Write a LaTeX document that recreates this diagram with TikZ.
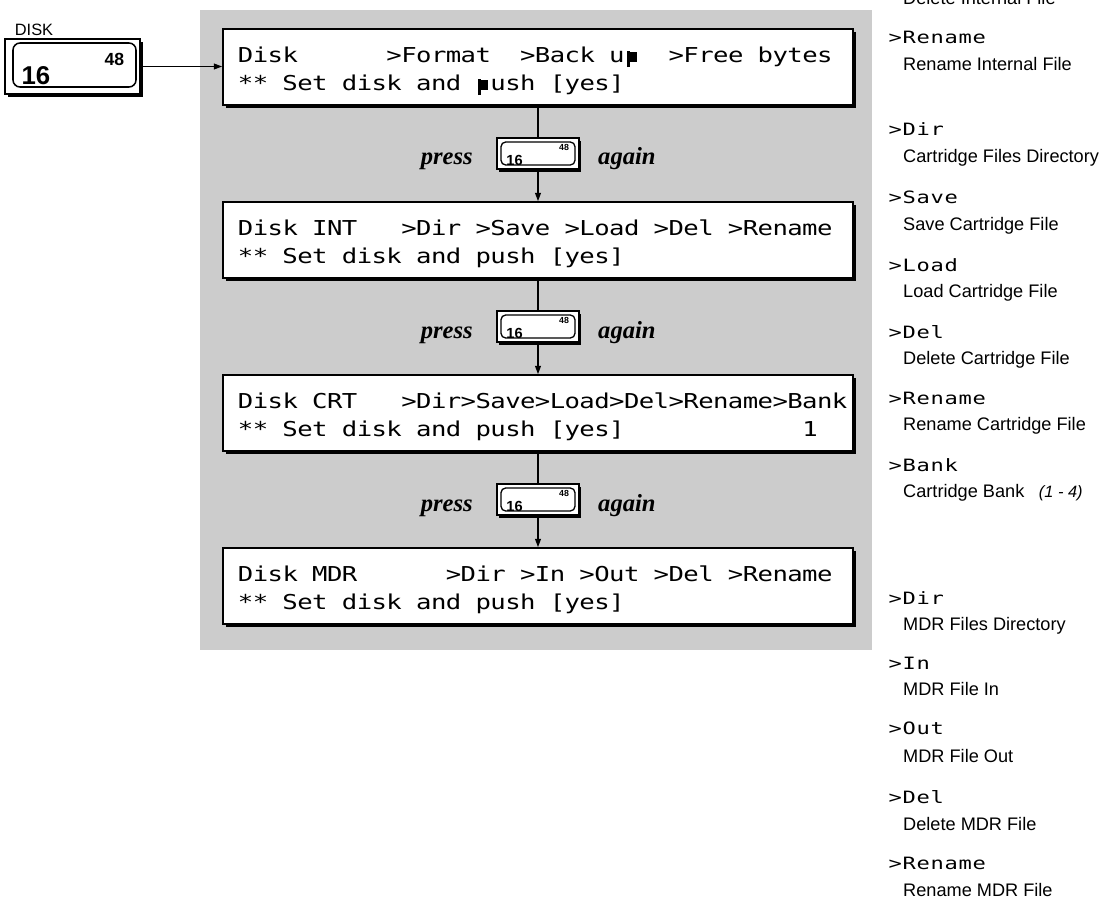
\documentclass[tikz,border=0pt]{standalone}
\usepackage{fontspec}
\setmainfont{Liberation Sans}
\newfontfamily\lcdfont[FakeStretch=1.25]{DejaVu Sans Mono}
\newfontfamily\lcdsmall[FakeStretch=1.3]{DejaVu Sans Mono}
\newfontfamily\serifface{Liberation Serif}
\usetikzlibrary{arrows.meta,shadows}

% a dot-matrix "p" whose bowl is filled in
\newcommand\lcdblob{\rule[-0.22em]{0.13em}{0.76em}\kern-0.01em\rule[0.02em]{0.36em}{0.5em}}

% fixed-pitch LCD text: every character sits in a cell of width #1;
% "_" is an empty cell, "@" is the filled p
\ExplSyntaxOn
\dim_new:N \l_lcd_pitch_dim
\NewDocumentCommand \lcdtext { m m }
  {
    \dim_set:Nn \l_lcd_pitch_dim {#1}
    \str_map_inline:nn {#2}
      {
        \str_case:nnF {##1}
          {
            { _ } { \hbox_to_wd:nn { \l_lcd_pitch_dim } { } }
            { @ } { \hbox_to_wd:nn { \l_lcd_pitch_dim } { \hss \lcdblob \hss } }
          }
          { \hbox_to_wd:nn { \l_lcd_pitch_dim } { \hss ##1 \hss } }
      }
  }
\ExplSyntaxOff

\begin{document}
\begin{tikzpicture}[x=0.03cm,y=-0.03cm,
  stipple/.style={fill=black!20},
  lcdbox/.style={draw, line width=1.5pt, fill=white, minimum width=18.9cm,
    minimum height=2.28cm, inner sep=0pt,
    drop shadow={shadow xshift=2.6pt, shadow yshift=-2.6pt, opacity=1, fill=black}},
  lcdline/.style={anchor=base west, inner sep=0pt, font=\lcdfont\fontsize{17.5}{20}\selectfont},
  keyout/.style={draw, line width=1.1pt, fill=white, minimum width=2.46cm,
    minimum height=0.93cm, inner sep=0pt,
    drop shadow={shadow xshift=2pt, shadow yshift=-2.2pt, opacity=1, fill=black}},
  keyin/.style={draw, line width=1.1pt, rounded corners=4pt, minimum width=2.22cm,
    minimum height=0.69cm, inner sep=0pt},
  keynum/.style={inner sep=0pt, font=\bfseries\fontsize{12.5}{13}\selectfont},
  keysup/.style={inner sep=0pt, font=\bfseries\fontsize{7.5}{8}\selectfont},
  bigout/.style={draw, line width=1.3pt, fill=white, minimum width=4.05cm,
    minimum height=1.65cm, inner sep=0pt,
    drop shadow={shadow xshift=2.6pt, shadow yshift=-2.6pt, opacity=1, fill=black}},
  bigin/.style={draw, line width=1.3pt, rounded corners=6pt, minimum width=3.69cm,
    minimum height=1.32cm, inner sep=0pt},
  pressword/.style={inner sep=0pt, font=\serifface\bfseries\itshape\fontsize{21}{24}\selectfont},
  conn/.style={line width=0.9pt},
  tip/.style={-{Triangle[length=7pt,width=5pt]}},
  rlabel/.style={anchor=base west, inner sep=0pt, font=\lcdsmall\fontsize{14.5}{16}\selectfont},
  rdesc/.style={anchor=base west, inner sep=0pt, font=\fontsize{15.5}{18}\selectfont},
  plain/.style={inner sep=0pt}
]
\useasboundingbox (0,0) rectangle (1115,901);

% shaded panel behind the four displays
\fill[stipple] (200,10) rectangle (872,650);

% DISK key
\node[plain, font=\fontsize{14}{16}\selectfont] (disklbl) at (34,30) {DISK};
\node[bigout] (disk) at (72.5,66.5) {};
\node[bigin] (diskin) at (74.5,65) {};
\node[plain, font=\bfseries\fontsize{22}{24}\selectfont] (disk16) at (36,76) {16};
\node[plain, font=\bfseries\fontsize{15}{16}\selectfont] (disk48) at (114.5,59) {48};

% the four display screens
\node[lcdbox] (lcd1) at (538,67) {};
\node[lcdbox] (lcd2) at (538,240) {};
\node[lcdbox] (lcd3) at (538,413) {};
\node[lcdbox] (lcd4) at (538,586) {};

\node[lcdline] (l1a) at (238,62.5)  {\lcdtext{0.4455cm}{Disk______>Format__>Back_u@__>Free_bytes}};
\node[lcdline] (l1b) at (238,90.5)  {\lcdtext{0.4455cm}{**_Set_disk_and_@ush_[yes]}};
\node[lcdline] (l2a) at (238,235.5) {\lcdtext{0.4455cm}{Disk_INT___>Dir_>Save_>Load_>Del_>Rename}};
\node[lcdline] (l2b) at (238,263.5) {\lcdtext{0.4455cm}{**_Set_disk_and_push_[yes]}};
\node[lcdline] (l3a) at (238,408.5) {\lcdtext{0.4455cm}{Disk_CRT___>Dir>Save>Load>Del>Rename>Bank}};
\node[lcdline] (l3b) at (238,436.5) {\lcdtext{0.4455cm}{**_Set_disk_and_push_[yes]____________1}};
\node[lcdline] (l4a) at (238,581.5) {\lcdtext{0.4455cm}{Disk_MDR______>Dir_>In_>Out_>Del_>Rename}};
\node[lcdline] (l4b) at (238,609.5) {\lcdtext{0.4455cm}{**_Set_disk_and_push_[yes]}};

% "press [DISK] again" between the screens
\foreach \i/\yy in {1/153.5, 2/326.5, 3/499.5} {
  \node[keyout] (k\i) at (538,\yy) {};
  \node[keyin] (ki\i) at (538,\yy) {};
  \node[keynum] (kn\i) at (514.5,\yy+6.5) {16};
  \node[keysup] (ks\i) at (564,\yy-6.5) {48};
  \node[pressword, anchor=base east] (pr\i) at (473,\yy+11.5) {press};
  \node[pressword, anchor=base west] (ag\i) at (598,\yy+11.5) {again};
}

% connectors
\draw[conn, tip] (disk.east) -- (disk.east -| lcd1.west);
\draw[conn] (lcd1.south) -- (k1.north);
\draw[conn, tip] (k1.south) -- (lcd2.north);
\draw[conn] (lcd2.south) -- (k2.north);
\draw[conn, tip] (k2.south) -- (lcd3.north);
\draw[conn] (lcd3.south) -- (k3.north);
\draw[conn, tip] (k3.south) -- (lcd4.north);

% function list
\node[rdesc] (d0) at (903,5) {Delete Internal File};
\node[rlabel] (r1) at (888,44) {\lcdtext{0.42cm}{>Rename}};
\node[rdesc] (d1) at (903,71) {Rename Internal File};
\node[rlabel] (r2) at (888,136) {\lcdtext{0.42cm}{>Dir}};
\node[rdesc] (d2) at (903,163) {Cartridge Files Directory};
\node[rlabel] (r3) at (888,203) {\lcdtext{0.42cm}{>Save}};
\node[rdesc] (d3) at (903,230) {Save Cartridge File};
\node[rlabel] (r4) at (888,271) {\lcdtext{0.42cm}{>Load}};
\node[rdesc] (d4) at (903,297) {Load Cartridge File};
\node[rlabel] (r5) at (888,338) {\lcdtext{0.42cm}{>Del}};
\node[rdesc] (d5) at (903,364) {Delete Cartridge File};
\node[rlabel] (r6) at (888,404) {\lcdtext{0.42cm}{>Rename}};
\node[rdesc] (d6) at (903,430) {Rename Cartridge File};
\node[rlabel] (r7) at (888,471) {\lcdtext{0.42cm}{>Bank}};
\node[rdesc] (d7) at (903,497) {Cartridge Bank\hspace{0.8em}{\itshape\fontsize{14}{16}\selectfont (1 - 4)}};
\node[rlabel] (r8) at (888,604) {\lcdtext{0.42cm}{>Dir}};
\node[rdesc] (d8) at (903,630) {MDR Files Directory};
\node[rlabel] (r9) at (888,669) {\lcdtext{0.42cm}{>In}};
\node[rdesc] (d9) at (903,695) {MDR File In};
\node[rlabel] (r10) at (888,734) {\lcdtext{0.42cm}{>Out}};
\node[rdesc] (d10) at (903,762) {MDR File Out};
\node[rlabel] (r11) at (888,803) {\lcdtext{0.42cm}{>Del}};
\node[rdesc] (d11) at (903,830) {Delete MDR File};
\node[rlabel] (r12) at (888,869) {\lcdtext{0.42cm}{>Rename}};
\node[rdesc] (d12) at (903,896) {Rename MDR File};
\end{tikzpicture}
\end{document}
